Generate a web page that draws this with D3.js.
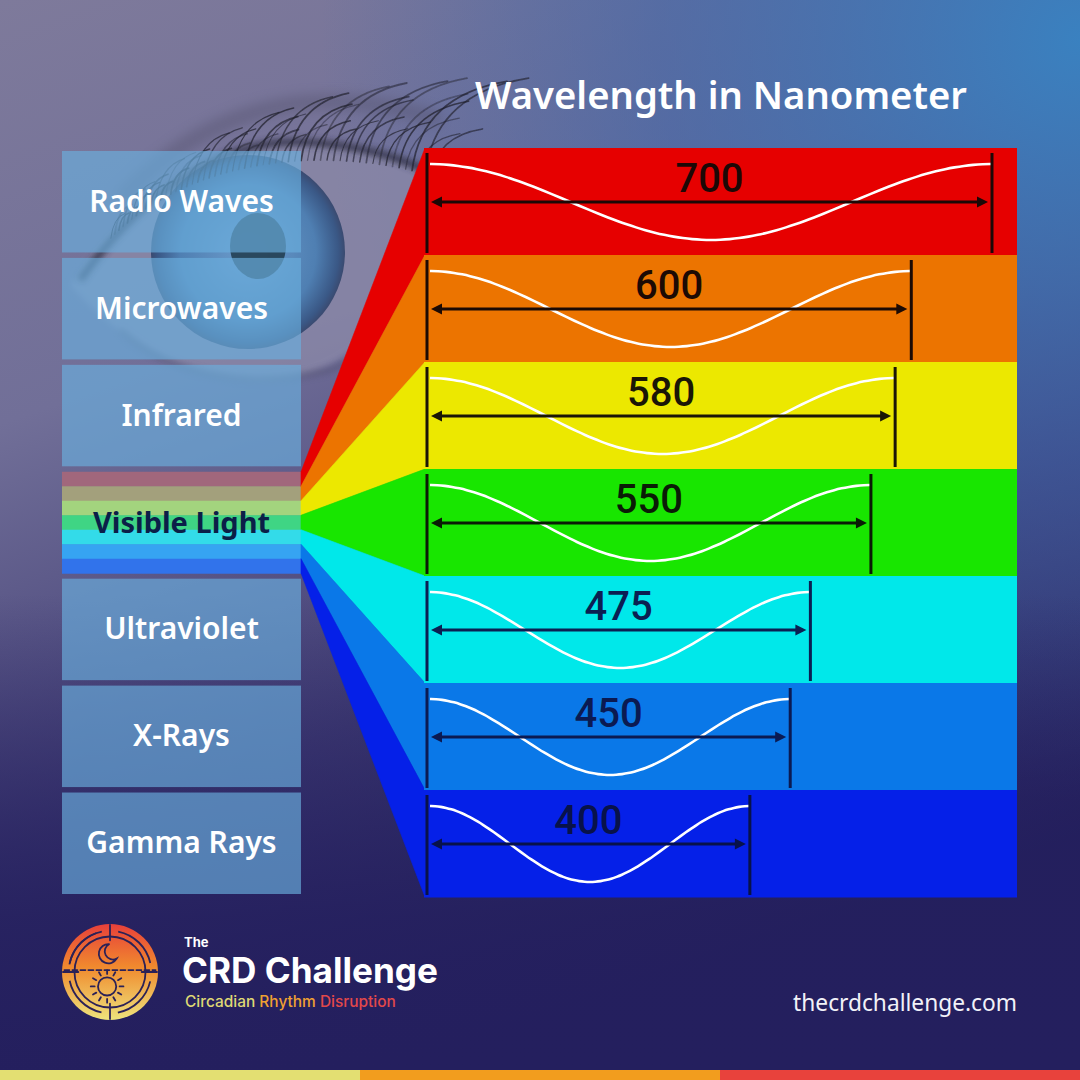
<!DOCTYPE html>
<html>
<head>
<meta charset="utf-8">
<script src="https://cdnjs.cloudflare.com/ajax/libs/d3/7.8.5/d3.min.js"></script>
<style>
  html, body { margin: 0; padding: 0; background: #262262; }
  svg { display: block; }
</style>
</head>
<body>
<div id="chart-area"></div>
<script>
// spectrum groups shown in the left column
const categories = ["Radio Waves", "Microwaves", "Infrared", "Visible Light", "Ultraviolet", "X-Rays", "Gamma Rays"];
// wavelength (nm) shown in each coloured band, top to bottom
const wavelengths = [700, 600, 580, 550, 475, 450, 400];
const wavelengthLabels = ["700", "600", "580", "550", "475", "450", "400"];
const bandColors = ["#e60000", "#ec7400", "#ece800", "#18e600", "#00e8ea", "#0a78e8", "#0520e8"];
const stripeColors = ["#a1677c", "#a3a07c", "#a3d47e", "#3fd584", "#33dbe9", "#36a4f2", "#3173eb"];
const inkColors = ["#1c0806", "#1c0a04", "#1a1606", "#0a1c06", "#0b1f52", "#0b1a52", "#08124a"];
const footerColors = ["#e3df72", "#f29d1e", "#e8423c"];

const W = 1080, H = 1080;

const svg = d3.select("#chart-area")
  .append("svg")
    .attr("width", W)
    .attr("height", H);

const defs = svg.append("defs");

function linearGrad(id, x1, y1, x2, y2, stops) {
  const g = defs.append("linearGradient")
    .attr("id", id)
    .attr("x1", x1).attr("y1", y1).attr("x2", x2).attr("y2", y2);
  stops.forEach(s => g.append("stop")
    .attr("offset", s[0]).attr("stop-color", s[1]).attr("stop-opacity", s[2] === undefined ? 1 : s[2]));
}

linearGrad("bg", 0, 0, 0.35, 1, [[0, "#7e7a9b"], [0.35, "#716f98"], [0.7, "#413d75"], [1, "#231f5c"]]);
linearGrad("bgBottom", 0, 0, 0, 1, [[0.55, "#241f5e", 0], [0.85, "#241f5e", 0.85], [1, "#241f5e", 1]]);
linearGrad("logoGrad", 0, 0, 0, 1, [[0, "#e8403a"], [0.45, "#f08a2e"], [1, "#eee37c"]]);

const rg = defs.append("radialGradient")
  .attr("id", "bgBlue")
  .attr("gradientUnits", "userSpaceOnUse")
  .attr("cx", 1080).attr("cy", 40).attr("r", 760);
rg.append("stop").attr("offset", 0).attr("stop-color", "#3782c2").attr("stop-opacity", 0.95);
rg.append("stop").attr("offset", 0.55).attr("stop-color", "#3a66ac").attr("stop-opacity", 0.55);
rg.append("stop").attr("offset", 1).attr("stop-color", "#3a66ac").attr("stop-opacity", 0);

const iris = defs.append("radialGradient")
  .attr("id", "iris");
iris.append("stop").attr("offset", 0).attr("stop-color", "#6c9ccc");
iris.append("stop").attr("offset", 0.7).attr("stop-color", "#4f7fb2");
iris.append("stop").attr("offset", 0.93).attr("stop-color", "#3a5886");
iris.append("stop").attr("offset", 1).attr("stop-color", "#3a4a70");

defs.append("filter").attr("id", "blur6")
  .attr("x", "-30%").attr("y", "-30%").attr("width", "160%").attr("height", "160%")
  .append("feGaussianBlur").attr("stdDeviation", 6);
defs.append("filter").attr("id", "blur3")
  .attr("x", "-30%").attr("y", "-30%").attr("width", "160%").attr("height", "160%")
  .append("feGaussianBlur").attr("stdDeviation", 3);
defs.append("filter").attr("id", "blur1")
  .append("feGaussianBlur").attr("stdDeviation", 0.7);

const eyeOpening = "M70,285 C130,190 220,140 300,142 C360,144 410,160 440,178 C420,300 360,385 250,380 C170,376 110,330 70,285 Z";
defs.append("clipPath").attr("id", "eyeClip")
  .append("path").attr("d", eyeOpening);

// background
svg.append("rect").attr("width", W).attr("height", H).attr("fill", "url(#bg)");
svg.append("rect").attr("width", W).attr("height", H).attr("fill", "url(#bgBlue)");
svg.append("rect").attr("width", W).attr("height", H).attr("fill", "url(#bgBottom)");

// eye photo, roughly
const eye = svg.append("g").attr("class", "eye");
eye.append("path")
  .attr("d", eyeOpening)
  .attr("fill", "#8e8caa")
  .attr("opacity", 0.7)
  .attr("filter", "url(#blur3)");
const eyeInner = eye.append("g").attr("clip-path", "url(#eyeClip)");
eyeInner.append("circle")
  .attr("cx", 248).attr("cy", 252).attr("r", 97)
  .attr("fill", "url(#iris)");
eyeInner.append("ellipse")
  .attr("cx", 258).attr("cy", 246).attr("rx", 28).attr("ry", 33)
  .attr("fill", "#233f52")
  .attr("opacity", 0.9);
// lid crease and upper lid shadow
eye.append("path")
  .attr("d", "M120,200 Q250,60 440,120")
  .attr("fill", "none")
  .attr("stroke", "#55536e")
  .attr("stroke-width", 16)
  .attr("opacity", 0.45)
  .attr("filter", "url(#blur6)");
eye.append("path")
  .attr("d", "M80,280 C140,195 220,140 300,142 C360,144 410,160 440,178")
  .attr("fill", "none")
  .attr("stroke", "#2a2a3e")
  .attr("stroke-width", 7)
  .attr("opacity", 0.8)
  .attr("filter", "url(#blur3)");
eye.append("path")
  .attr("d", "M120,330 C170,376 250,390 330,370 C380,350 420,300 440,178")
  .attr("fill", "none")
  .attr("stroke", "#4c4c66")
  .attr("stroke-width", 6)
  .attr("opacity", 0.4)
  .attr("filter", "url(#blur3)");
const lashes = eye.append("g")
  .attr("stroke", "#22222f")
  .attr("fill", "none")
  .attr("stroke-linecap", "round")
  .attr("filter", "url(#blur1)");
d3.range(56).forEach(k => {
  const t = 0.14 + 0.84 * k / 55;
  const u = 1 - t;
  // point on the upper lid curve
  const x0 = u * u * u * 80 + 3 * u * u * t * 140 + 3 * u * t * t * 300 + t * t * t * 440;
  const y0 = u * u * u * 280 + 3 * u * u * t * 170 + 3 * u * t * t * 135 + t * t * t * 178;
  const len = (30 + 75 * Math.pow(t, 1.2)) * (0.7 + 0.3 * Math.sin(k * 2.7));
  const lean = 0.45 + 0.6 * t;
  lashes.append("path")
    .attr("d", `M${x0.toFixed(1)},${y0.toFixed(1)} q${(len * 0.1).toFixed(1)},${(-len * 0.8).toFixed(1)} ${(len * lean).toFixed(1)},${(-len * 0.95).toFixed(1)}`)
    .attr("stroke-width", 1.0 + 0.8 * Math.abs(Math.sin(k * 1.3)))
    .attr("opacity", 0.4 + 0.35 * Math.abs(Math.cos(k * 1.7)));
});

// title
const title = svg.append("text")
  .attr("x", 721)
  .attr("y", 109)
  .attr("text-anchor", "middle")
  .attr("font-family", "'Noto Sans', 'Open Sans', sans-serif")
  .attr("font-weight", 600)
  .attr("font-size", 42)
  .attr("fill", "#ffffff")
  .text("Wavelength in Nanometer");

function fitText(sel, width) {
  const w = sel.node().getComputedTextLength();
  const fs = parseFloat(sel.attr("font-size"));
  sel.attr("font-size", (fs * width / w).toFixed(2));
}
fitText(title, 492);

// scales
const bandX0 = 424, bandX1 = 1017;
const panelX0 = 62, panelX1 = 301;

const yBand = d3.scaleBand()
  .domain(wavelengthLabels)
  .range([148, 897]);

const yPanel = d3.scaleBand()
  .domain(categories)
  .range([151, 894])
  .paddingInner(0.051);

const xWave = d3.scaleLinear()
  .domain([0, 700])
  .range([427, 992]);

const yStripe = d3.scaleBand()
  .domain(d3.range(stripeColors.length))
  .range([yPanel("Visible Light"), yPanel("Visible Light") + yPanel.bandwidth()]);

// left column boxes
const panel = svg.append("g").attr("class", "panel");
categories.forEach(c => {
  if (c === "Visible Light") {
    stripeColors.forEach((col, i) => {
      panel.append("rect")
        .attr("x", panelX0)
        .attr("y", yStripe(i))
        .attr("width", panelX1 - panelX0)
        .attr("height", yStripe.bandwidth() + 0.5)
        .attr("fill", col);
    });
  } else {
    panel.append("rect")
      .attr("x", panelX0)
      .attr("y", yPanel(c))
      .attr("width", panelX1 - panelX0)
      .attr("height", yPanel.bandwidth())
      .attr("fill", "#6aafdd")
      .attr("fill-opacity", 0.66);
  }
});

categories.forEach(c => {
  const isVisible = c === "Visible Light";
  panel.append("text")
    .attr("x", (panelX0 + panelX1) / 2)
    .attr("y", yPanel(c) + yPanel.bandwidth() / 2 + 10)
    .attr("text-anchor", "middle")
    .attr("font-family", "'Noto Sans', 'Open Sans', sans-serif")
    .attr("font-weight", isVisible ? 700 : 600)
    .attr("font-size", isVisible ? 29 : 30)
    .attr("fill", isVisible ? "#0b1f48" : "#ffffff")
    .text(c);
});

// fan from visible light stripes to coloured bands
const fan = svg.append("g").attr("class", "fan");
wavelengthLabels.forEach((w, i) => {
  const pts = [
    [panelX1, yStripe(i)],
    [bandX0 + 1, yBand(w)],
    [bandX0 + 1, yBand(w) + yBand.bandwidth()],
    [panelX1, yStripe(i) + yStripe.bandwidth()]
  ];
  fan.append("path")
    .attr("d", d3.line()(pts) + "Z")
    .attr("fill", bandColors[i])
    .attr("stroke", bandColors[i])
    .attr("stroke-width", 0.6);
});

// coloured bands
const bands = svg.append("g").attr("class", "bands");
wavelengthLabels.forEach((w, i) => {
  bands.append("rect")
    .attr("x", bandX0)
    .attr("y", yBand(w))
    .attr("width", bandX1 - bandX0)
    .attr("height", yBand.bandwidth() + 0.5)
    .attr("fill", bandColors[i]);
});

// waves, arrows and labels
const wave = d3.line()
  .x(d => d[0])
  .y(d => d[1])
  .curve(d3.curveBasis);

wavelengths.forEach((v, i) => {
  const top = yBand(wavelengthLabels[i]);
  const bw = yBand.bandwidth();
  const x0 = xWave(0), x1 = xWave(v);
  const mid = top + 54;
  const ink = inkColors[i];
  const g = bands.append("g");

  // white wave: one full cycle, crest at both ends
  const pts = d3.range(0, 1.0001, 1 / 60).map(t => [x0 + 3 + t * (x1 - x0 - 3), mid - 38 * Math.cos(2 * Math.PI * t)]);
  g.append("path")
    .attr("d", wave(pts))
    .attr("fill", "none")
    .attr("stroke", "#ffffff")
    .attr("stroke-width", 2.6);

  // bounding ticks
  [x0, x1].forEach(x => {
    g.append("line")
      .attr("x1", x).attr("x2", x)
      .attr("y1", top + 5).attr("y2", top + bw - 2)
      .attr("stroke", ink)
      .attr("stroke-width", 3);
  });

  // double arrow
  g.append("line")
    .attr("x1", x0 + 8).attr("x2", x1 - 8)
    .attr("y1", mid).attr("y2", mid)
    .attr("stroke", ink)
    .attr("stroke-width", 3);
  g.append("path")
    .attr("d", `M${x0 + 4},${mid} l11,-5.5 l0,11 Z`)
    .attr("fill", ink);
  g.append("path")
    .attr("d", `M${x1 - 4},${mid} l-11,-5.5 l0,11 Z`)
    .attr("fill", ink);

  g.append("text")
    .attr("x", (x0 + x1) / 2)
    .attr("y", top + 44)
    .attr("text-anchor", "middle")
    .attr("font-family", "Roboto, 'Liberation Sans', sans-serif")
    .attr("font-weight", 500)
    .attr("font-size", 40)
    .attr("fill", ink)
    .text(wavelengthLabels[i]);
});

// logo
const logo = svg.append("g")
  .attr("transform", "translate(110,972)");
const R = 48;
logo.append("circle").attr("r", R).attr("fill", "url(#logoGrad)");
const art = logo.append("g")
  .attr("fill", "none")
  .attr("stroke", "#2b2157")
  .attr("stroke-width", 1.8)
  .attr("stroke-linecap", "round");
art.append("circle").attr("r", R * 0.74);
const arc = d3.arc().innerRadius(R * 0.86).outerRadius(R * 0.86);
[[-1.35, -0.2], [0.2, 1.35], [1.8, 2.95], [3.35, 4.5], [4.9, 5.95]].forEach(a => {
  art.append("path").attr("d", arc({ startAngle: a[0], endAngle: a[1] }));
});
[[0, -R * 0.98, 0, -R * 0.66], [0, R * 0.66, 0, R * 0.98], [R * 0.66, 0, R * 0.98, 0], [-R * 0.98, 0, -R * 0.66, 0]]
  .forEach(l => art.append("line").attr("x1", l[0]).attr("y1", l[1]).attr("x2", l[2]).attr("y2", l[3]));
art.append("line")
  .attr("x1", -R * 0.95).attr("x2", R * 0.95)
  .attr("y1", -R * 0.04).attr("y2", -R * 0.04)
  .attr("stroke-dasharray", "5,3");
// moon
art.append("path")
  .attr("d", `M${-R * 0.02},${-R * 0.58} A${R * 0.2},${R * 0.2} 0 1 0 ${R * 0.14},${-R * 0.28} A${R * 0.16},${R * 0.16} 0 0 1 ${-R * 0.02},${-R * 0.58}`);
// sun
art.append("circle").attr("cx", -R * 0.06).attr("cy", R * 0.3).attr("r", R * 0.19);
d3.range(12).forEach(k => {
  const a = k * Math.PI / 6;
  art.append("line")
    .attr("x1", -R * 0.06 + Math.cos(a) * R * 0.26).attr("y1", R * 0.3 + Math.sin(a) * R * 0.26)
    .attr("x2", -R * 0.06 + Math.cos(a) * R * 0.34).attr("y2", R * 0.3 + Math.sin(a) * R * 0.34);
});

const brandFont = "Inter, 'Open Sans', sans-serif";
svg.append("text")
  .attr("x", 184).attr("y", 947)
  .attr("font-family", brandFont)
  .attr("font-weight", 700)
  .attr("font-size", 13)
  .attr("fill", "#ffffff")
  .text("The");
const brand = svg.append("text")
  .attr("x", 182).attr("y", 983)
  .attr("font-family", brandFont)
  .attr("font-weight", 700)
  .attr("font-size", 32)
  .attr("fill", "#ffffff")
  .text("CRD Challenge");
fitText(brand, 256);
const sub = svg.append("text")
  .attr("x", 185).attr("y", 1007)
  .attr("font-family", brandFont)
  .attr("font-weight", 500)
  .attr("font-size", 14);
sub.append("tspan").attr("fill", "#dfd874").text("Circadian ");
sub.append("tspan").attr("fill", "#f0a032").text("Rhythm ");
sub.append("tspan").attr("fill", "#e2484a").text("Disruption");
fitText(sub, 211);

const url = svg.append("text")
  .attr("x", 1017).attr("y", 1011)
  .attr("text-anchor", "end")
  .attr("font-family", "'Noto Sans', 'Open Sans', sans-serif")
  .attr("font-size", 20)
  .attr("fill", "#f2f2f8")
  .text("thecrdchallenge.com");
fitText(url, 224);

// footer bar
const xFoot = d3.scaleBand().domain(d3.range(footerColors.length)).range([0, W]);
footerColors.forEach((c, i) => {
  svg.append("rect")
    .attr("x", xFoot(i))
    .attr("y", 1070)
    .attr("width", xFoot.bandwidth() + 0.5)
    .attr("height", 10)
    .attr("fill", c);
});
</script>
</body>
</html>
